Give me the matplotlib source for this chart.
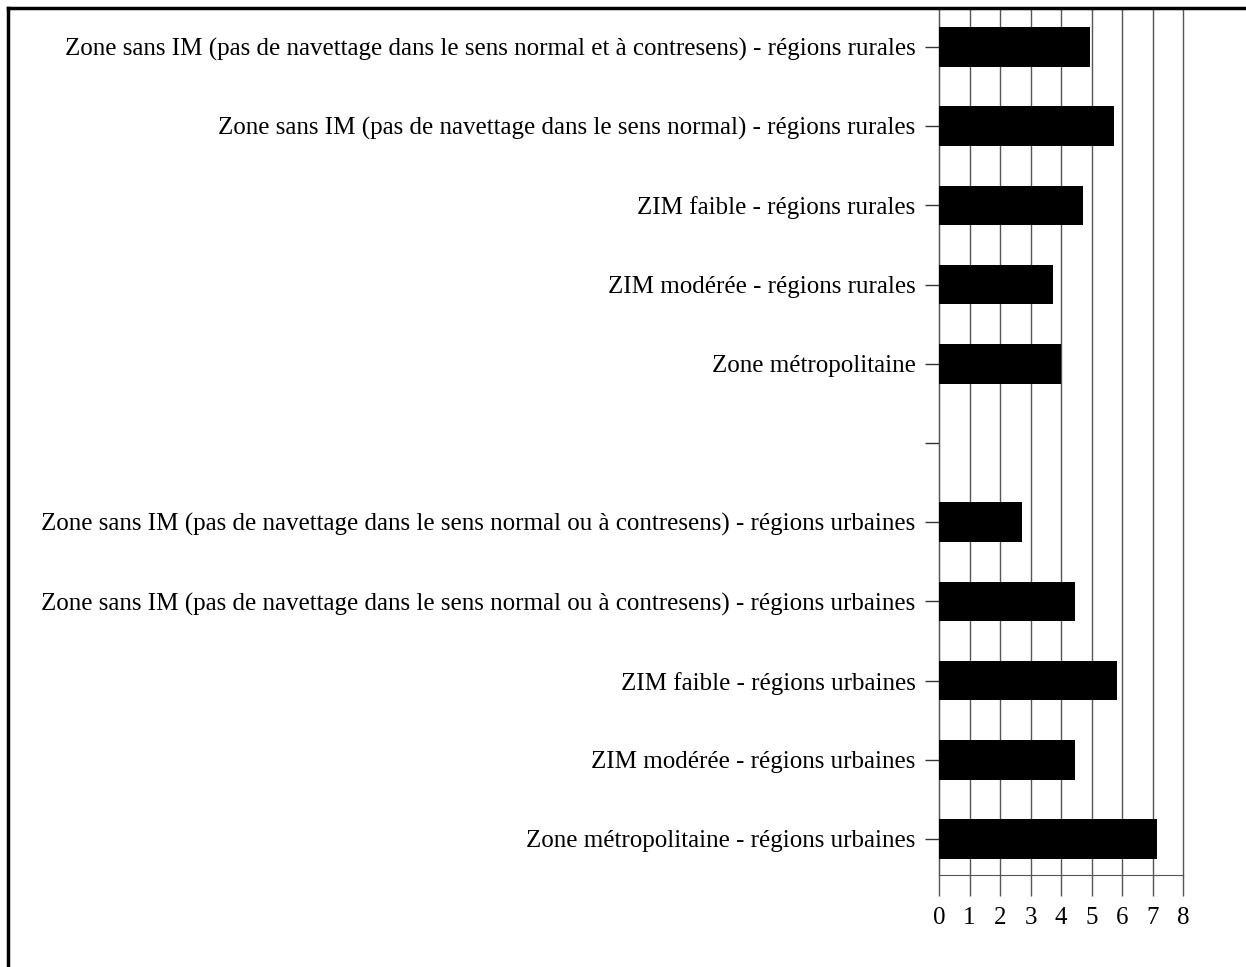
import matplotlib.pyplot as plt
from matplotlib.lines import Line2D

# categories from top to bottom (empty string = blank slot)
categories = [
    "Zone sans IM (pas de navettage dans le sens normal et à contresens) - régions rurales",
    "Zone sans IM (pas de navettage dans le sens normal) - régions rurales",
    "ZIM faible - régions rurales",
    "ZIM modérée - régions rurales",
    "Zone métropolitaine",
    "",
    "Zone sans IM (pas de navettage dans le sens normal ou à contresens) - régions urbaines",
    "Zone sans IM (pas de navettage dans le sens normal ou à contresens) - régions urbaines",
    "ZIM faible - régions urbaines",
    "ZIM modérée - régions urbaines",
    "Zone métropolitaine - régions urbaines",
]
values = [4.95, 5.74, 4.72, 3.74, 4.0, None, 2.72, 4.46, 5.83, 4.46, 7.14]
x_ticks = [0, 1, 2, 3, 4, 5, 6, 7, 8]

plt.rcParams['font.family'] = ['Liberation Serif', 'DejaVu Serif']

fig = plt.figure(figsize=(12.46, 9.67), dpi=100)
ax = fig.add_axes([939 / 1246, 1 - 875 / 967, (1183 - 939) / 1246, (875 - 9) / 967])

n = len(categories)
ypos = [n - 1 - i for i in range(n)]
for y, v in zip(ypos, values):
    if v is not None:
        ax.barh(y, v, height=0.5, color='black', zorder=3)

ax.set_xlim(0, 8)
ax.set_ylim(-0.455, n - 1 + 0.48)
ax.set_xticks(x_ticks)
ax.set_xticklabels([str(t) for t in x_ticks], fontsize=18)
ax.set_yticks(ypos)
ax.set_yticklabels(categories, fontsize=18)

ax.grid(axis='x', color='#555555', linewidth=1, zorder=1)
for gl in ax.get_xgridlines():
    gl.set_clip_on(False)
ax.set_axisbelow(True)
ax.tick_params(axis='x', length=15, width=1, color='#555555', pad=8)
ax.tick_params(axis='y', length=10, width=1, color='#333333', pad=7)
for side in ['top', 'right']:
    ax.spines[side].set_visible(False)
ax.spines['left'].set_color('#555555')
ax.spines['bottom'].set_color('#555555')

# outer frame (left and top edges)
fig.add_artist(Line2D([8 / 1246, 8 / 1246], [0, 1 - 8 / 967], color='black', linewidth=2.5, transform=fig.transFigure))
fig.add_artist(Line2D([8 / 1246, 1], [1 - 8 / 967, 1 - 8 / 967], color='black', linewidth=2.5, transform=fig.transFigure))

fig.savefig('out.png', dpi=100)
